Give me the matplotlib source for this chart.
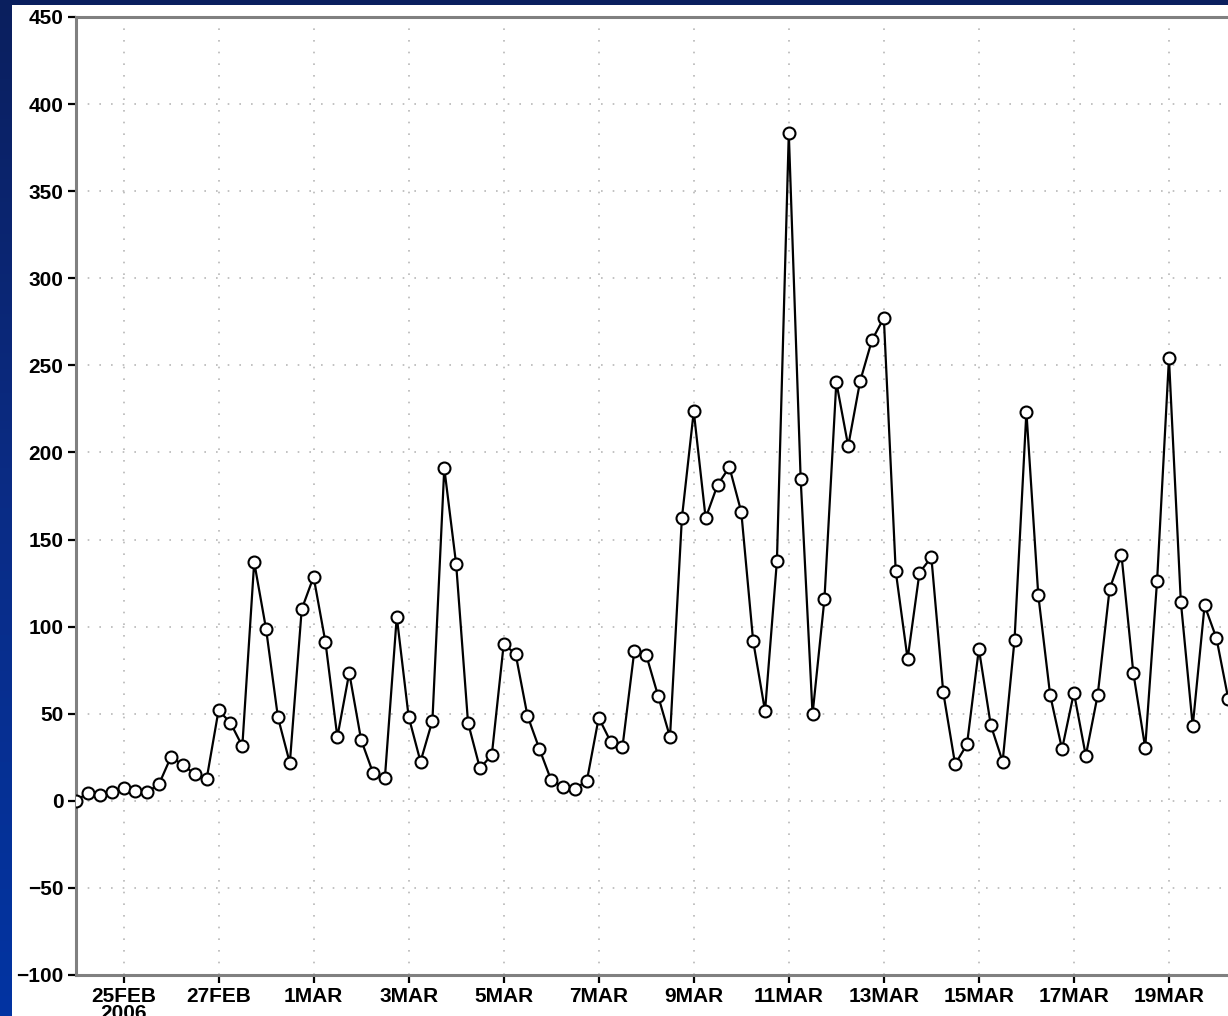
import numpy as np
import pandas as pd
import matplotlib
matplotlib.use("Agg")
import matplotlib.pyplot as plt
import matplotlib.dates as mdates
from matplotlib.patches import Rectangle

plt.rcParams['font.family'] = ['Liberation Sans', 'DejaVu Sans']

# 6-hourly series starting 24FEB2006 00Z
start = "2006-02-24 00:00"
values = [0, 4.6, 3.5, 5, 7.5, 5.8, 4.9, 9.8, 25.3, 20.5,
          15.4, 12.7, 52, 44.8, 31.4, 137, 98.6, 47.9, 21.7, 110,
          128.6, 91, 36.6, 73.5, 35, 16.1, 13.1, 105.7, 48.3, 22.5,
          46, 191, 135.8, 44.8, 18.7, 26.3, 89.8, 84.5, 48.9, 29.9,
          11.8, 8.1, 7, 11.4, 47.7, 34, 31, 86.2, 83.7, 60.2,
          36.6, 162.3, 223.6, 162.3, 181.3, 191.6, 165.8, 91.7, 51.5, 137.7,
          383.3, 184.7, 49.8, 115.8, 240.3, 203.7, 240.8, 264.5, 277.2, 131.9,
          81.4, 131, 139.8, 62.3, 21, 32.4, 87.3, 43.5, 22.5, 92.3,
          223.4, 118.1, 60.7, 29.7, 62.1, 25.9, 60.7, 121.4, 141.3, 73.5,
          30.5, 126.4, 254, 114.3, 42.9, 112.2, 93.3, 58.3]
times = pd.date_range(start, periods=len(values), freq="6h")

tick_dates = pd.date_range("2006-02-25", "2006-03-19", freq="2D")
tick_labels = ["25FEB\n2006", "27FEB", "1MAR", "3MAR", "5MAR", "7MAR",
               "9MAR", "11MAR", "13MAR", "15MAR", "17MAR", "19MAR"]
y_ticks = list(range(-100, 451, 50))

W, H = 1228, 1016
fig = plt.figure(figsize=(W / 100, H / 100), dpi=100)

# blue gradient slide background
bg = fig.add_axes([0, 0, 1, 1])
grad = np.linspace(0, 1, 256).reshape(-1, 1)
cmap = matplotlib.colors.LinearSegmentedColormap.from_list(
    "slide", ["#0a1f5e", "#0a2c86", "#0234a2"])
bg.imshow(grad, aspect="auto", cmap=cmap, extent=[0, 1, 0, 1], origin="upper")
bg.set_axis_off()
fig.patches.append(Rectangle((12 / W, 0), 1, 1 - 5 / H, transform=fig.transFigure,
                             facecolor="white", edgecolor="none", zorder=1))

# axes run past the right edge of the picture
left = 76 / W
bottom = 1 - 975 / H
top = 1 - 17 / H
step = 11.88
n_span = 100
ax = fig.add_axes([left, bottom, n_span * step / W, top - bottom])
ax.set_zorder(2)
ax.set_facecolor("none")

ax.plot(times, values, color="black", lw=1.6, marker="o", ms=8.6,
        mfc="white", mec="black", mew=1.5, zorder=3)

ax.set_xlim(times[0], times[0] + pd.Timedelta(hours=6 * n_span))
ax.set_ylim(-100, 450)
ax.set_yticks(y_ticks)
ax.set_xticks(tick_dates)
ax.set_xticklabels(tick_labels, linespacing=0.85)

ax.grid(True, color="#b8b8b8", linestyle=(0, (1, 6)), linewidth=1.2)
for s in ["left", "bottom", "top"]:
    ax.spines[s].set_color("#808080")
    ax.spines[s].set_linewidth(2.2)
ax.spines["right"].set_visible(False)

ax.tick_params(axis="both", direction="out", length=6, width=1.6, color="black",
               labelsize=15, pad=3)
for lab in ax.get_xticklabels() + ax.get_yticklabels():
    lab.set_fontweight("bold")

fig.savefig("out.png", dpi=100)
